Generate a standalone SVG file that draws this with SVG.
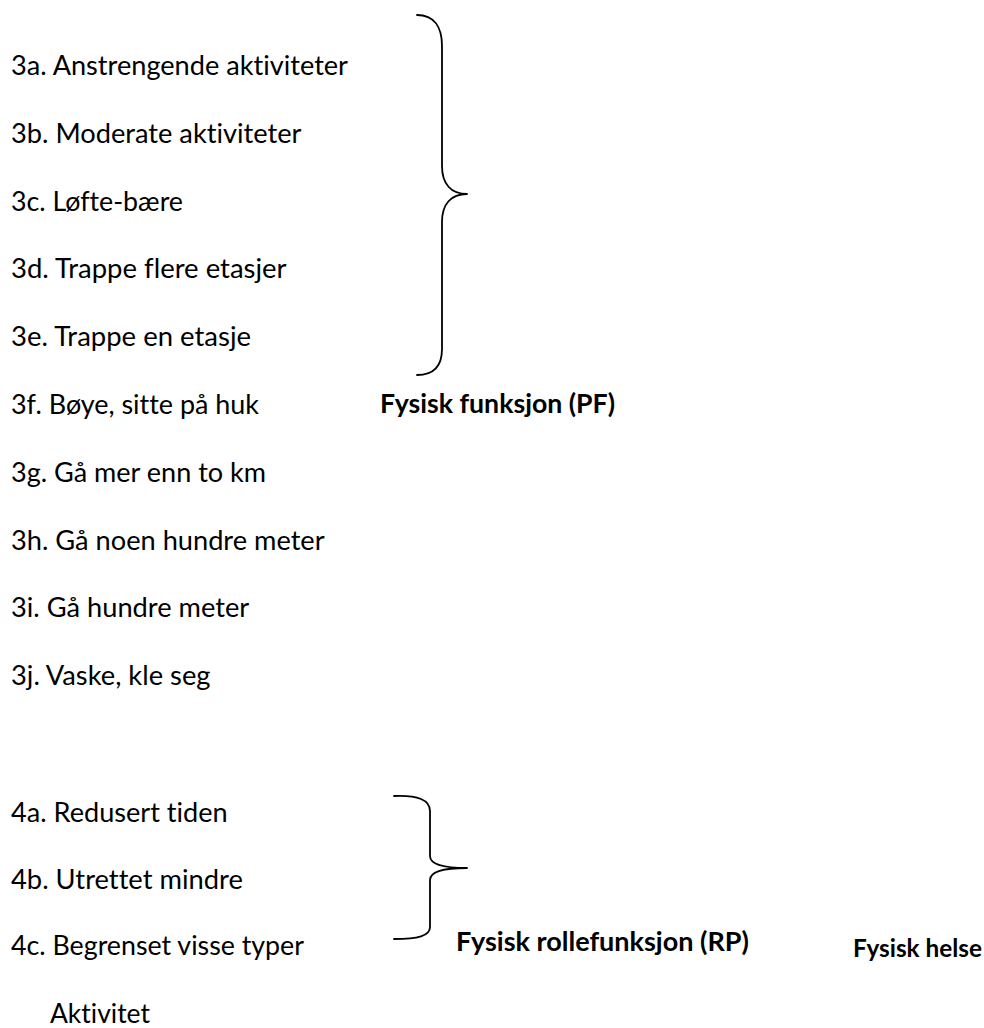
<svg xmlns="http://www.w3.org/2000/svg" width="984" height="1028" viewBox="0 0 984 1028">
<style>
text{font-family:Lato,"Open Sans","Liberation Sans",sans-serif;fill:#000;font-variant-ligatures:none;font-feature-settings:"liga" 0,"clig" 0;}
.it{font-size:26.4px;}
.lb{font-size:26.4px;font-weight:bold;}
.lb2{font-size:24px;font-weight:bold;}
.br{fill:none;stroke:#000;stroke-width:1.8;stroke-linecap:round;stroke-linejoin:round;}
</style>
<rect width="984" height="1028" fill="#fff"/>
<g id="items-3">
<g id="n3a"><text class="it" x="11" y="75" textLength="337" lengthAdjust="spacingAndGlyphs">3a. Anstrengende aktiviteter</text></g>
<g id="n3b"><text class="it" x="11" y="142.8" textLength="290.5" lengthAdjust="spacingAndGlyphs">3b. Moderate aktiviteter</text></g>
<g id="n3c"><text class="it" x="11" y="210.6" textLength="172" lengthAdjust="spacingAndGlyphs">3c. Løfte-bære</text></g>
<g id="n3d"><text class="it" x="11" y="278.4" textLength="275.6" lengthAdjust="spacingAndGlyphs">3d. Trappe flere etasjer</text></g>
<g id="n3e"><text class="it" x="11" y="346.2" textLength="240" lengthAdjust="spacingAndGlyphs">3e. Trappe en etasje</text></g>
<g id="n3f"><text class="it" x="11" y="414" textLength="248" lengthAdjust="spacingAndGlyphs">3f. Bøye, sitte på huk</text></g>
<g id="n3g"><text class="it" x="11" y="481.8" textLength="255" lengthAdjust="spacingAndGlyphs">3g. Gå mer enn to km</text></g>
<g id="n3h"><text class="it" x="11" y="549.6" textLength="313.6" lengthAdjust="spacingAndGlyphs">3h. Gå noen hundre meter</text></g>
<g id="n3i"><text class="it" x="11" y="617.4" textLength="238.2" lengthAdjust="spacingAndGlyphs">3i. Gå hundre meter</text></g>
<g id="n3j"><text class="it" x="11" y="685.2" textLength="199.5" lengthAdjust="spacingAndGlyphs">3j. Vaske, kle seg</text></g>
</g>
<g id="items-4">
<g id="n4a"><text class="it" x="11" y="822" textLength="216.7" lengthAdjust="spacingAndGlyphs">4a. Redusert tiden</text></g>
<g id="n4b"><text class="it" x="11" y="888.5" textLength="231.8" lengthAdjust="spacingAndGlyphs">4b. Utrettet mindre</text></g>
<g id="n4c"><text class="it" x="11" y="955" textLength="293" lengthAdjust="spacingAndGlyphs">4c. Begrenset visse typer</text></g>
<g id="n4c2"><text class="it" x="50" y="1023" textLength="100" lengthAdjust="spacingAndGlyphs">Aktivitet</text></g>
</g>
<g id="pf"><text class="lb" x="380" y="413" textLength="235" lengthAdjust="spacingAndGlyphs">Fysisk funksjon (PF)</text></g>
<g id="rp"><text class="lb" x="456" y="951" textLength="293" lengthAdjust="spacingAndGlyphs">Fysisk rollefunksjon (RP)</text></g>
<g id="helse"><text class="lb2" x="853" y="957" textLength="129" lengthAdjust="spacingAndGlyphs">Fysisk helse</text></g>
<g id="connectors">
<path class="br" d="M417,15 C434,15 442,27 442,46 L442,166 C442,184 451,194 467,194 C451,194 442,204 442,222 L442,349 C442,366 434,375 417,375"/>
<path class="br" d="M394,796 C418,795 430,800 430,811 L430,856 C430,865 444,868 467,868 C444,868 430,871 430,880 L430,927 C430,936 418,939 394,939"/>
</g>
</svg>
